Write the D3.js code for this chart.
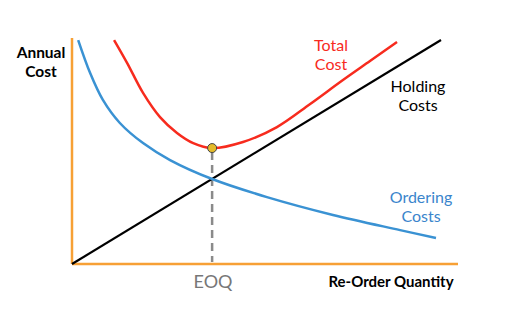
<!DOCTYPE html>
<html>
<head>
<meta charset="utf-8">
<script src="https://cdn.jsdelivr.net/npm/d3@7"></script>
<style>
  body { margin: 0; background: #fff; }
  text { font-family: Lato, "Open Sans", sans-serif; }
</style>
</head>
<body>
<svg width="516" height="315"></svg>
<script>
// values, in arbitrary units (x: quantity 0..100, y: cost 0..100)
var holdingQ = [0, 95.6],
    holdingCost = [0, 99.1];

var orderingQ = [1.6, 4.7, 8.0, 12.4, 18.4, 25.4, 36.3, 50.5, 67.6, 85.0, 94.3],
    orderingCost = [99.1, 84.5, 72.6, 62.4, 53.5, 46.0, 37.6, 29.6, 21.7, 15.0, 11.5];

var totalQ = [10.9, 14.3, 18.4, 22.8, 27.2, 31.4, 36.3, 44.3, 53.1, 61.7, 70.2, 77.2, 84.2],
    totalCost = [99.1, 88.9, 75.7, 65.0, 58.0, 53.5, 51.3, 54.0, 60.6, 70.8, 81.4, 89.8, 98.2];

var eoqQ = 36.3, eoqTotal = 51.3;

var svg = d3.select("svg"),
    margin = {left: 72, right: 58, top: 38, bottom: 51},
    width = +svg.attr("width"),
    height = +svg.attr("height");

var x = d3.scaleLinear().domain([0, 100]).range([margin.left, width - margin.right]),
    y = d3.scaleLinear().domain([0, 100]).range([height - margin.bottom, margin.top]);

function zip(a, b) { return a.map(function(v, i) { return [v, b[i]]; }); }

var line = d3.line()
    .x(function(d) { return x(d[0]); })
    .y(function(d) { return y(d[1]); })
    .curve(d3.curveCatmullRom.alpha(0.5));

// axes (plain orange lines, no ticks)
svg.append("line")
    .attr("x1", x(0)).attr("x2", x(0))
    .attr("y1", y(100)).attr("y2", y(0))
    .attr("stroke", "#f7a035").attr("stroke-width", 2.5);
svg.append("line")
    .attr("x1", x(0)).attr("x2", x(100))
    .attr("y1", y(0)).attr("y2", y(0))
    .attr("stroke", "#f7a035").attr("stroke-width", 2.5);

// EOQ drop line
svg.append("line")
    .attr("x1", x(eoqQ)).attr("x2", x(eoqQ))
    .attr("y1", y(eoqTotal) + 4).attr("y2", y(0) - 2)
    .attr("stroke", "#8a8a8a").attr("stroke-width", 2.5)
    .attr("stroke-dasharray", "8,5");

svg.append("path")
    .attr("d", line(zip(holdingQ, holdingCost)))
    .attr("fill", "none").attr("stroke", "#000").attr("stroke-width", 2.2);

svg.append("path")
    .attr("d", line(zip(orderingQ, orderingCost)))
    .attr("fill", "none").attr("stroke", "#3a92d3").attr("stroke-width", 2.5);

svg.append("path")
    .attr("d", line(zip(totalQ, totalCost)))
    .attr("fill", "none").attr("stroke", "#f72b1e").attr("stroke-width", 2.5);

svg.append("circle")
    .attr("cx", x(eoqQ)).attr("cy", y(eoqTotal)).attr("r", 4.5)
    .attr("fill", "#e4bb2a").attr("stroke", "#444").attr("stroke-width", 1);

// labels
function label(lines, cx, by, color, size, weight) {
  var t = svg.append("text")
      .attr("text-anchor", "middle")
      .attr("fill", color)
      .style("font-size", size + "px")
      .style("font-weight", weight || "normal");
  lines.forEach(function(s, i) {
    t.append("tspan").attr("x", cx).attr("y", by + i * (size + 3)).text(s);
  });
}

label(["Annual", "Cost"], 41, 58, "#000", 15.5, "bold");
label(["Re-Order Quantity"], 391, 287, "#000", 15, "bold");
label(["EOQ"], 213, 288, "#777", 18);
label(["Total", "Cost"], 331, 51, "#f72b1e", 16);
label(["Holding", "Costs"], 418, 92, "#000", 16);
label(["Ordering", "Costs"], 421, 203, "#3a85cc", 16);
</script>
</body>
</html>
